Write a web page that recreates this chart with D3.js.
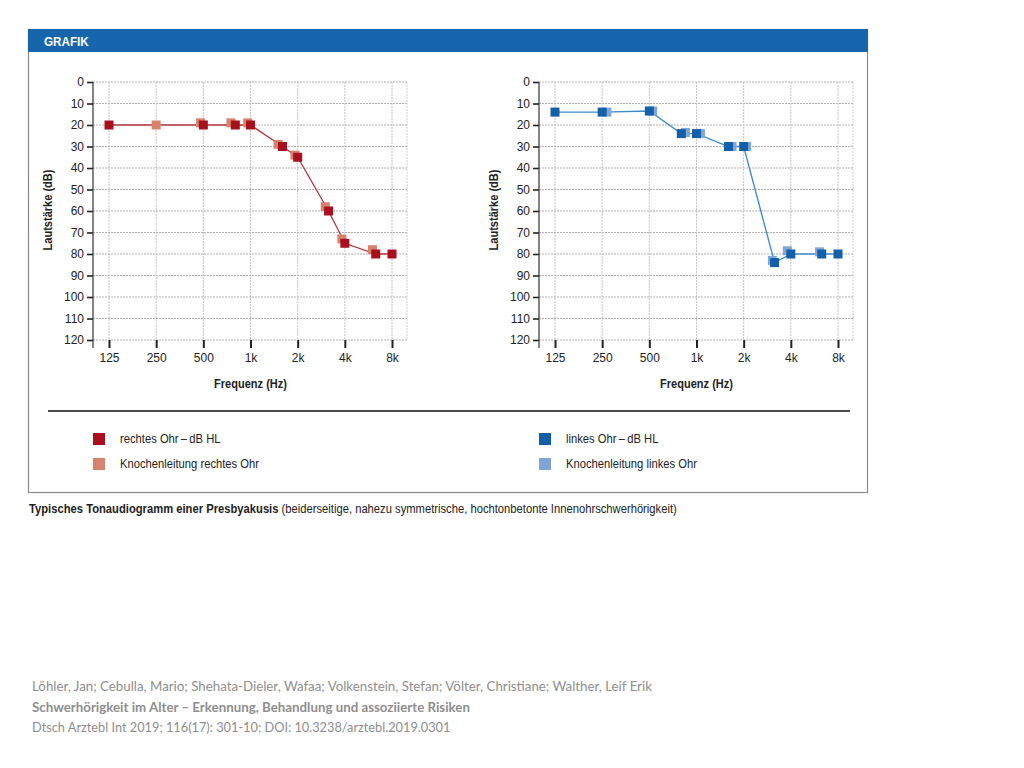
<!DOCTYPE html>
<html>
<head>
<meta charset="utf-8">
<script src="https://cdn.jsdelivr.net/npm/d3@7"></script>
<style>
  body { margin: 0; background: #fff; }
  text { font-family: "Liberation Sans", Arial, sans-serif; }
</style>
</head>
<body>
<div id="svgdiv"></div>
<script>
// Data
var freqTicks = [125, 250, 500, 1000, 2000, 4000, 8000];
var freqLabels = ["125", "250", "500", "1k", "2k", "4k", "8k"];
var dbTicks = [0, 10, 20, 30, 40, 50, 60, 70, 80, 90, 100, 110, 120];

// right ear (red)
var rightAirFreq = [125, 500, 800, 1000, 1600, 2000, 3150, 4000, 6300, 8000];
var rightAirDb   = [20, 20, 20, 20, 30, 35, 60, 75, 80, 80];
var rightBoneFreq = [250, 480, 750, 960, 1500, 1920, 3000, 3830, 6000];
var rightBoneDb   = [20, 19, 19, 19, 29, 34, 58, 73, 78];

// left ear (blue)
var leftAirFreq = [125, 250, 500, 800, 1000, 1600, 2000, 3150, 4000, 6300, 8000];
var leftAirDb   = [14, 14, 13.5, 24, 24, 30, 30, 84, 80, 80, 80];
var leftBoneFreq = [268, 525, 850, 1060, 1685, 2090, 3050, 3800, 6100];
var leftBoneDb   = [14, 13.5, 23.5, 24, 30, 30, 83, 78.5, 79];

var legendLabels = ["rechtes Ohr\u2009\u2013\u2009dB HL", "Knochenleitung rechtes Ohr",
                    "linkes Ohr\u2009\u2013\u2009dB HL", "Knochenleitung linkes Ohr"];

var svgWidth = 1024;
var svgHeight = 768;
var squeeze = 0.935; // the source text is a bit condensed

var svg = d3.select("#svgdiv")
    .append("svg")
    .attr("width", svgWidth)
    .attr("height", svgHeight);

svg.append("rect").attr("width", svgWidth).attr("height", svgHeight).attr("fill", "#fff");

// frame + header
svg.append("rect")
    .attr("x", 28.5).attr("y", 29.5)
    .attr("width", 839).attr("height", 463)
    .attr("fill", "none")
    .attr("stroke", "#8a8a8a")
    .attr("stroke-width", 1.2);

svg.append("rect")
    .attr("x", 28).attr("y", 29)
    .attr("width", 840).attr("height", 23)
    .attr("fill", "#1766ad");

svg.append("text")
    .attr("transform", `translate(44, 46) scale(${squeeze}, 1)`)
    .attr("fill", "#fff")
    .attr("font-size", "12.5px")
    .attr("font-weight", "bold")
    .text("GRAFIK");

// one audiogram panel
function drawAudiogram(axisX, airF, airD, boneF, boneD, dark, light, lineColor) {
    var top = 82, bottom = 340;
    var x = d3.scaleLog().base(2)
        .domain([125, 8000])
        .range([axisX + 16, axisX + 299]);
    var y = d3.scaleLinear()
        .domain([0, 120])
        .range([top, bottom]);
    var rightEdge = x(8000) + 15;

    var g = svg.append("g");

    // grid
    g.selectAll(".hgrid")
        .data(dbTicks)
        .enter()
        .append("line")
            .attr("x1", axisX).attr("x2", rightEdge)
            .attr("y1", d => y(d)).attr("y2", d => y(d))
            .attr("stroke", "#a8a8a8")
            .attr("stroke-width", 0.9)
            .attr("stroke-dasharray", "2,1");

    g.selectAll(".vgrid")
        .data(freqTicks)
        .enter()
        .append("line")
            .attr("x1", d => x(d)).attr("x2", d => x(d))
            .attr("y1", top).attr("y2", bottom)
            .attr("stroke", "#bdbdbd")
            .attr("stroke-width", 0.9)
            .attr("stroke-dasharray", "2,1");

    g.append("line")
        .attr("x1", rightEdge).attr("x2", rightEdge)
        .attr("y1", top).attr("y2", bottom)
        .attr("stroke", "#c8c8c8")
        .attr("stroke-width", 0.9)
        .attr("stroke-dasharray", "2,1");

    // y axis
    var leftAxis = d3.axisLeft(y).tickValues(dbTicks).tickSize(6).tickPadding(3);
    var yAxis = g.append("g")
        .attr("transform", `translate(${axisX}, 0)`)
        .call(leftAxis);
    yAxis.select(".domain").remove();
    yAxis.selectAll("line").attr("stroke", "#222").attr("stroke-width", 1.6);
    yAxis.selectAll("text").attr("font-size", "12px").attr("fill", "#222")
        .style("font-family", "Liberation Sans, Arial, sans-serif");

    g.append("line")
        .attr("x1", axisX).attr("x2", axisX)
        .attr("y1", top).attr("y2", bottom + 8)
        .attr("stroke", "#333").attr("stroke-width", 1.2);

    // x axis
    var bottomAxis = d3.axisBottom(x)
        .tickValues(freqTicks)
        .tickFormat((d, i) => freqLabels[i])
        .tickSize(8).tickPadding(5);
    var xAxis = g.append("g")
        .attr("transform", `translate(0, ${bottom})`)
        .call(bottomAxis);
    xAxis.select(".domain").remove();
    xAxis.selectAll("line").attr("stroke", "#222").attr("stroke-width", 2);
    xAxis.selectAll("text").attr("font-size", "12px").attr("fill", "#222")
        .style("font-family", "Liberation Sans, Arial, sans-serif");

    // axis titles
    g.append("text")
        .attr("transform", `translate(${(x(125) + x(8000)) / 2}, 388) scale(0.92, 1)`)
        .attr("text-anchor", "middle")
        .attr("font-size", "12px")
        .attr("font-weight", "bold")
        .attr("fill", "#222")
        .text("Frequenz (Hz)");

    g.append("text")
        .attr("transform", `translate(${axisX - 41}, ${(top + bottom) / 2 - 1}) rotate(-90) scale(0.92, 1)`)
        .attr("text-anchor", "middle")
        .attr("font-size", "12px")
        .attr("font-weight", "bold")
        .attr("fill", "#222")
        .text("Lautstärke (dB)");

    // air conduction line
    var line = d3.line()
        .x((d, i) => x(airF[i]))
        .y(d => y(d));
    g.append("path")
        .datum(airD)
        .attr("d", line)
        .attr("fill", "none")
        .attr("stroke", lineColor)
        .attr("stroke-width", 1.3);

    var s = 9;
    // bone conduction markers (behind)
    g.selectAll(".bone")
        .data(boneD)
        .enter()
        .append("rect")
            .attr("x", (d, i) => x(boneF[i]) - s / 2)
            .attr("y", d => y(d) - s / 2)
            .attr("width", s).attr("height", s)
            .attr("fill", light);

    // air conduction markers
    g.selectAll(".air")
        .data(airD)
        .enter()
        .append("rect")
            .attr("x", (d, i) => x(airF[i]) - s / 2)
            .attr("y", d => y(d) - s / 2)
            .attr("width", s).attr("height", s)
            .attr("fill", dark);
}

drawAudiogram(93, rightAirFreq, rightAirDb, rightBoneFreq, rightBoneDb, "#a9101e", "#d8826e", "#b5383c");
drawAudiogram(539, leftAirFreq, leftAirDb, leftBoneFreq, leftBoneDb, "#135fa8", "#7fa6d8", "#3f89c9");

// separator
svg.append("line")
    .attr("x1", 48).attr("x2", 850)
    .attr("y1", 411).attr("y2", 411)
    .attr("stroke", "#111").attr("stroke-width", 1.5);

// legend
var legendColors = ["#a9101e", "#d8826e", "#135fa8", "#7fa6d8"];
var legendX = [93, 93, 539, 539];
var legendY = [439, 464, 439, 464];

var legend = svg.append("g");
legend.selectAll("rect")
    .data(legendLabels)
    .enter()
    .append("rect")
        .attr("x", (d, i) => legendX[i])
        .attr("y", (d, i) => legendY[i] - 6)
        .attr("width", 12).attr("height", 12)
        .attr("fill", (d, i) => legendColors[i]);

legend.selectAll("text")
    .data(legendLabels)
    .enter()
    .append("text")
        .attr("transform", (d, i) => `translate(${legendX[i] + 27}, ${legendY[i] + 4}) scale(${squeeze}, 1)`)
        .attr("font-size", "12px")
        .attr("fill", "#222")
        .text(d => d);

// caption
var caption = svg.append("text")
    .attr("transform", `translate(29, 513) scale(${squeeze}, 1)`)
    .attr("font-size", "12px")
    .attr("fill", "#222");
caption.append("tspan").attr("font-weight", "bold").text("Typisches Tonaudiogramm einer Presbyakusis");
caption.append("tspan").text(" (beiderseitige, nahezu symmetrische, hochtonbetonte Innenohrschwerhörigkeit)");

// citation
var citeLines = [
    "Löhler, Jan; Cebulla, Mario; Shehata-Dieler, Wafaa; Volkenstein, Stefan; Völter, Christiane; Walther, Leif Erik",
    "Schwerhörigkeit im Alter \u2013 Erkennung, Behandlung und assoziierte Risiken",
    "Dtsch Arztebl Int 2019; 116(17): 301-10; DOI: 10.3238/arztebl.2019.0301"
];
var citeSqueeze = [1, 1, 0.96];
svg.selectAll(".cite")
    .data(citeLines)
    .enter()
    .append("text")
        .attr("transform", (d, i) => `translate(32, ${691 + i * 20.5}) scale(${citeSqueeze[i]}, 1)`)
        .attr("font-size", "13.3px")
        .attr("font-weight", (d, i) => i === 1 ? "bold" : "normal")
        .attr("fill", "#8e8e8e")
        .style("font-family", "Lato, 'Open Sans', sans-serif")
        .text(d => d);
</script>
</body>
</html>
